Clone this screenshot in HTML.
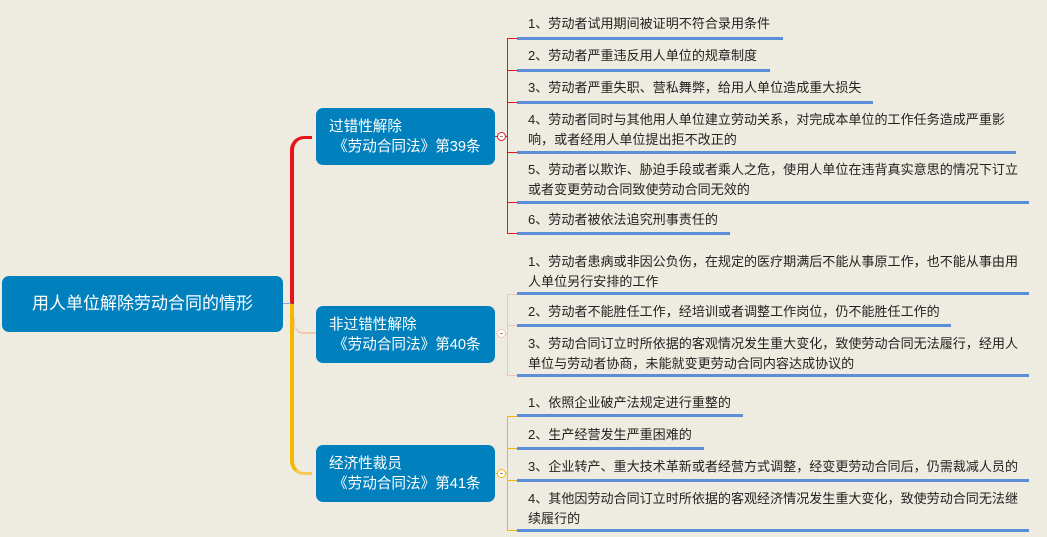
<!DOCTYPE html>
<html><head><meta charset="utf-8"><style>
body{margin:0;width:1047px;height:537px;background:#EEEBE0;position:relative;overflow:hidden;font-family:"Liberation Sans","Noto Sans CJK SC",sans-serif}
.b{position:absolute;background:#0081BD;color:#fff;border-radius:7px}
.t{position:absolute;left:528px;font-size:13.05px;line-height:20px;color:#222;white-space:nowrap}
.u{position:absolute;left:517px;height:3px;background:#5B8ED6}
.l{position:absolute}
.c{position:absolute;width:9px;height:9px;border-radius:50%;background:#fff;box-sizing:border-box}
.c:after{content:"";position:absolute;left:2px;top:3px;width:3px;height:1px;background:#888}
</style></head><body>
<!-- trunk -->
<div class="l" style="left:290px;top:136px;width:22px;height:170px;border-left:4px solid #E8141C;border-top:3px solid #E8141C;border-top-left-radius:14px;box-sizing:border-box"></div>
<div class="l" style="left:290px;top:304px;width:22px;height:171px;border-left:4px solid #F5B800;border-bottom:3px solid #F7C85A;border-bottom-left-radius:14px;box-sizing:border-box"></div>
<div class="l" style="left:294px;top:318px;width:22px;height:16px;border-left:1px solid #F4C5B0;border-bottom:2px solid #F4C5B0;border-bottom-left-radius:10px;box-sizing:border-box"></div>
<div class="l" style="left:283px;top:303px;width:8px;height:1px;background:#8AA8D8"></div>

<div class="b" style="left:2px;top:276px;width:281px;height:56px;font-size:17px;line-height:56px;text-align:center">用人单位解除劳动合同的情形</div>
<div class="b" style="left:316px;top:108px;width:179px;height:57px;font-size:14.6px;line-height:20px;padding:9px 0 0 13px;box-sizing:border-box">过错性解除<br>&nbsp;《劳动合同法》第39条</div>
<div class="b" style="left:316px;top:306px;width:179px;height:57px;font-size:14.6px;line-height:20px;padding:9px 0 0 13px;box-sizing:border-box">非过错性解除<br>&nbsp;《劳动合同法》第40条</div>
<div class="b" style="left:316px;top:445px;width:179px;height:57px;font-size:14.6px;line-height:20px;padding:9px 0 0 13px;box-sizing:border-box">经济性裁员<br>&nbsp;《劳动合同法》第41条</div>

<!-- group1 connectors -->
<div class="l" style="left:495px;top:136px;width:12px;height:1px;background:#E8141C"></div>
<div class="l" style="left:507px;top:38px;width:1px;height:196px;background:#E8141C"></div>
<div class="l" style="left:507px;top:38px;width:10px;height:1px;background:#E8141C"></div>
<div class="l" style="left:507px;top:70px;width:10px;height:1px;background:#E8141C"></div>
<div class="l" style="left:507px;top:102px;width:10px;height:1px;background:#E8141C"></div>
<div class="l" style="left:507px;top:152px;width:10px;height:1px;background:#E8141C"></div>
<div class="l" style="left:507px;top:202px;width:10px;height:1px;background:#E8141C"></div>
<div class="l" style="left:507px;top:233px;width:10px;height:1px;background:#E8141C"></div>
<div class="c" style="left:497px;top:132px;border:1px solid #E8141C"></div>

<div class="t" style="top:14px">1、劳动者试用期间被证明不符合录用条件</div><div class="u" style="top:37px;width:266px"></div>
<div class="t" style="top:46px">2、劳动者严重违反用人单位的规章制度</div><div class="u" style="top:69px;width:253px"></div>
<div class="t" style="top:78px">3、劳动者严重失职、营私舞弊，给用人单位造成重大损失</div><div class="u" style="top:101px;width:356px"></div>
<div class="t" style="top:110px">4、劳动者同时与其他用人单位建立劳动关系，对完成本单位的工作任务造成严重影<br>响，或者经用人单位提出拒不改正的</div><div class="u" style="top:151px;width:499px"></div>
<div class="t" style="top:160px">5、劳动者以欺诈、胁迫手段或者乘人之危，使用人单位在违背真实意思的情况下订立<br>或者变更劳动合同致使劳动合同无效的</div><div class="u" style="top:201px;width:512px"></div>
<div class="t" style="top:210px">6、劳动者被依法追究刑事责任的</div><div class="u" style="top:232px;width:213px"></div>

<!-- group2 -->
<div class="l" style="left:495px;top:333px;width:12px;height:1px;background:#F4C5B0"></div>
<div class="l" style="left:507px;top:294px;width:1px;height:82px;background:#F4C5B0"></div>
<div class="l" style="left:507px;top:294px;width:10px;height:1px;background:#F4C5B0"></div>
<div class="l" style="left:507px;top:325px;width:10px;height:1px;background:#F4C5B0"></div>
<div class="l" style="left:507px;top:375px;width:10px;height:1px;background:#F4C5B0"></div>
<div class="c" style="left:497px;top:329px;border:1px solid #F4C5B0"></div>
<div class="t" style="top:252px">1、劳动者患病或非因公负伤，在规定的医疗期满后不能从事原工作，也不能从事由用<br>人单位另行安排的工作</div><div class="u" style="top:292px;width:512px"></div>
<div class="t" style="top:302px">2、劳动者不能胜任工作，经培训或者调整工作岗位，仍不能胜任工作的</div><div class="u" style="top:324px;width:434px"></div>
<div class="t" style="top:334px">3、劳动合同订立时所依据的客观情况发生重大变化，致使劳动合同无法履行，经用人<br>单位与劳动者协商，未能就变更劳动合同内容达成协议的</div><div class="u" style="top:374px;width:512px"></div>

<!-- group3 -->
<div class="l" style="left:495px;top:473px;width:12px;height:1px;background:#F5B800"></div>
<div class="l" style="left:507px;top:416px;width:1px;height:115px;background:#F5B800"></div>
<div class="l" style="left:507px;top:416px;width:10px;height:1px;background:#F5B800"></div>
<div class="l" style="left:507px;top:448px;width:10px;height:1px;background:#F5B800"></div>
<div class="l" style="left:507px;top:480px;width:10px;height:1px;background:#F5B800"></div>
<div class="l" style="left:507px;top:530px;width:10px;height:1px;background:#F5B800"></div>
<div class="c" style="left:497px;top:469px;border:1px solid #F5B800"></div>
<div class="t" style="top:393px">1、依照企业破产法规定进行重整的</div><div class="u" style="top:414px;width:226px"></div>
<div class="t" style="top:425px">2、生产经营发生严重困难的</div><div class="u" style="top:447px;width:187px"></div>
<div class="t" style="top:457px">3、企业转产、重大技术革新或者经营方式调整，经变更劳动合同后，仍需裁减人员的</div><div class="u" style="top:479px;width:512px"></div>
<div class="t" style="top:489px">4、其他因劳动合同订立时所依据的客观经济情况发生重大变化，致使劳动合同无法继<br>续履行的</div><div class="u" style="top:529px;width:512px"></div>
</body></html>
